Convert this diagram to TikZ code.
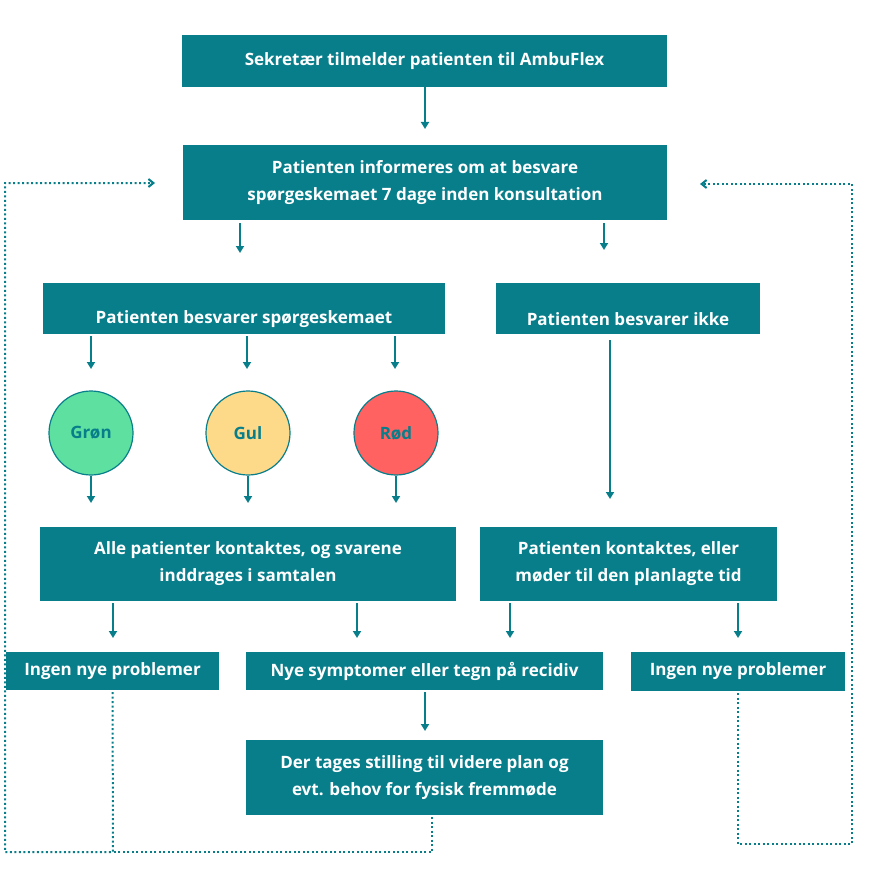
\documentclass[tikz,border=0pt]{standalone}
\usepackage{fontspec}
\setmainfont{Open Sans}
\usetikzlibrary{arrows.meta}
\definecolor{teal}{RGB}{8,126,139}
\definecolor{gronfill}{RGB}{94,224,160}
\definecolor{gulfill}{RGB}{253,217,138}
\definecolor{rodfill}{RGB}{255,98,96}
\begin{document}
\begin{tikzpicture}[x=1pt,y=-1pt,
  box/.style={fill=teal,text=white,font=\fontsize{17}{27}\selectfont\bfseries,inner sep=0pt,align=center},
  light/.style={circle,draw=teal,line width=1.2pt,minimum size=84pt,text=teal,font=\fontsize{17}{20}\selectfont\bfseries},
  arr/.style={-{Triangle[length=7pt,width=8pt]},teal,line width=2pt},
  dots/.style={teal,line width=2pt,dash pattern=on 2pt off 2.5pt},
  darr/.style={dots,-{Straight Barb[length=5pt,width=8pt]}}]
\useasboundingbox (0,0) rectangle (868,872);

% boxes
\node[box,minimum width=485pt,minimum height=52pt] (sek) at (424.5,61) {Sekretær tilmelder patienten til AmbuFlex};
\node[box,minimum width=484pt,minimum height=75pt] (info) at (425,182.5) {Patienten informeres om at besvare\\spørgeskemaet 7 dage inden konsultation};
\node[box,minimum width=402pt,minimum height=51pt,anchor=north,text height=33pt] (svar) at (244,283) {Patienten besvarer spørgeskemaet};
\node[box,minimum width=264pt,minimum height=51pt,anchor=north,text height=33pt] (ikke) at (628,283) {Patienten besvarer ikke};
% circles
\node[light,fill=gronfill] (gron) at (91,433) {Grøn};
\node[light,fill=gulfill] (gul) at (248,433) {Gul};
\node[light,fill=rodfill] (rod) at (396,433) {Rød};
\node[box,minimum width=416pt,minimum height=74pt] (alle) at (248,564) {Alle patienter kontaktes, og svarene\\inddrages i samtalen};
\node[box,minimum width=297pt,minimum height=74pt] (kont) at (628.5,564) {Patienten kontaktes, eller\\møder til den planlagte tid};
\node[box,minimum width=213pt,minimum height=38pt] (ingenA) at (112.5,671) {Ingen nye problemer};
\node[box,minimum width=357pt,minimum height=38pt] (nye) at (424.5,671) {Nye symptomer eller tegn på recidiv};
\node[box,minimum width=214pt,minimum height=39pt] (ingenB) at (738,671.5) {Ingen nye problemer};
\node[box,minimum width=357pt,minimum height=75pt] (plan) at (424.5,777.5) {Der tages stilling til videre plan og\\evt. behov for fysisk fremmøde};

% arrow ends
\coordinate (a1) at (425,129);
\coordinate (a2) at (240,253);
\coordinate (a3) at (604,250);
\coordinate (g1) at (91,369);
\coordinate (g2) at (247,369);
\coordinate (g3) at (395,369);
\coordinate (c1) at (91,503);
\coordinate (c2) at (248,503);
\coordinate (c3) at (396,503);
\coordinate (k1) at (610,499);
\coordinate (e1) at (113,638);
\coordinate (e2) at (357,638);
\coordinate (e3) at (510,638);
\coordinate (e4) at (738,638);
\coordinate (p1) at (425,731);

\draw[arr] (sek.south -| a1) -- (a1);
\draw[arr] ([yshift=-3pt]info.south -| a2) -- (a2);
\draw[arr] ([yshift=-3pt]info.south -| a3) -- (a3);
\draw[arr] ([yshift=-2pt]svar.south -| g1) -- (g1);
\draw[arr] ([yshift=-2pt]svar.south -| g2) -- (g2);
\draw[arr] ([yshift=-2pt]svar.south -| g3) -- (g3);
\draw[arr] (gron.south) -- (c1);
\draw[arr] (gul.south) -- (c2);
\draw[arr] (rod.south) -- (c3);
\draw[arr] ([yshift=-6pt]ikke.south -| k1) -- (k1);
\draw[arr] ([yshift=-2pt]alle.south -| e1) -- (e1);
\draw[arr] ([yshift=-2pt]alle.south -| e2) -- (e2);
\draw[arr] ([yshift=-2pt]kont.south -| e3) -- (e3);
\draw[arr] ([yshift=-2pt]kont.south -| e4) -- (e4);
\draw[arr] ([yshift=-2pt]nye.south -| p1) -- (p1);

% dotted loops
\coordinate (l1) at (155,183);
\coordinate (r1) at (700,184);
\draw[darr] ([yshift=-2pt]ingenA.south) -- (113,852) -- (5,852) -- (5,183) -- (l1);
\draw[dots] ([yshift=-2pt]plan.south -| 432,0) -- (432,852) -- (113,852);
\draw[darr] ([yshift=-2pt]ingenB.south) -- (738,844) -- (852,844) -- (852,184) -- (r1);
\end{tikzpicture}
\end{document}
